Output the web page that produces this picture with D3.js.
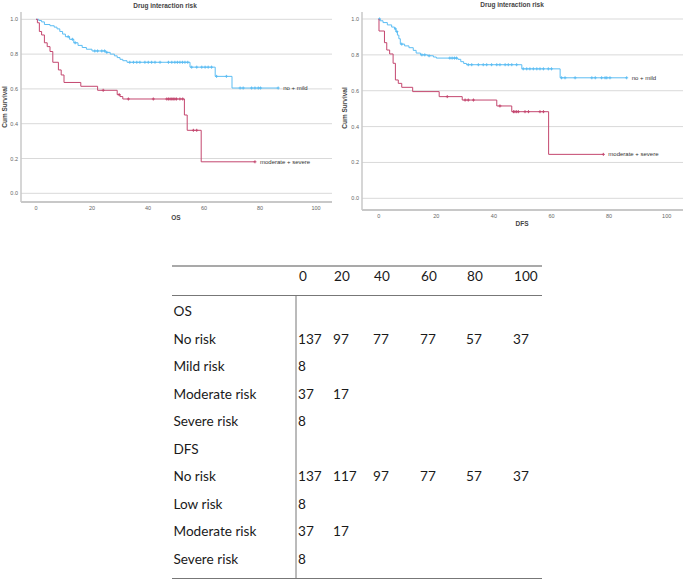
<!DOCTYPE html>
<html><head><meta charset="utf-8">
<script src="https://cdn.jsdelivr.net/npm/d3@7"></script>
<style>
html,body{margin:0;padding:0;background:#fff;}
svg{display:block;}
</style></head>
<body>
<svg id="c" width="685" height="587"></svg>
<script>
// ---------- DATA ----------
const xTicks = [0, 20, 40, 60, 80, 100];
const yTicks = [0.0, 0.2, 0.4, 0.6, 0.8, 1.0];
const chartTitle = "Drug interaction risk";
const yTitle = "Cum Survival";
const groupLabels = ["no + mild", "moderate + severe"];

// OS – no + mild
const osLowTimes = [0, 1, 2, 3, 5, 6.5, 7.5, 8.5, 9.5, 10.5, 12, 13.5, 15, 16.5, 18, 20, 25, 26.5, 28, 29, 30, 31, 32.5, 55, 64, 70];
const osLowSurv  = [1.0, 0.993, 0.985, 0.97, 0.963, 0.955, 0.945, 0.93, 0.915, 0.9, 0.885, 0.865, 0.85, 0.838, 0.828, 0.818, 0.81, 0.8, 0.79, 0.78, 0.77, 0.762, 0.753, 0.725, 0.672, 0.605];
const osLowCensor = [11.5, 13, 14, 21, 22, 23.5, 24.5, 25.3, 33.5, 34.8, 36, 37.1, 38.9, 40.1, 41.3, 42.5, 44.3, 47.3, 48.5, 49.6, 50.5, 51.4, 52.3, 53.2, 54.2, 55.6, 57.4, 59.2, 60.4, 61.5, 62.7, 64.5, 68, 72.9, 74, 77, 78.2, 79.4, 80.2, 86.5];
const osLowEnd = 86.5;

// OS – moderate + severe
const osHighTimes = [0, 0.5, 1.2, 2, 3, 4, 5, 6, 8, 9, 10, 16, 22, 29, 30, 31, 53, 54, 59];
const osHighSurv  = [1.0, 0.98, 0.93, 0.91, 0.865, 0.843, 0.815, 0.753, 0.709, 0.68, 0.637, 0.615, 0.592, 0.567, 0.556, 0.542, 0.45, 0.362, 0.181];
const osHighCensor = [24, 29.7, 33, 41.9, 46.7, 47.3, 47.9, 48.5, 49, 49.6, 50.2, 51.4, 52.4, 56.2, 57.4, 78.2];
const osHighEnd = 78.2;

// DFS – no + mild
const dfsLowTimes = [0, 0.5, 1.5, 3, 4.5, 5.5, 6, 6.5, 7, 7.5, 9, 10.5, 12, 13, 14.5, 17, 19, 20, 27.5, 28.5, 29.5, 30.5, 49.7, 63];
const dfsLowSurv  = [1.0, 0.99, 0.98, 0.967, 0.955, 0.945, 0.93, 0.91, 0.89, 0.86, 0.85, 0.84, 0.825, 0.81, 0.8, 0.795, 0.788, 0.782, 0.775, 0.762, 0.752, 0.745, 0.722, 0.672];
const dfsLowCensor = [0.3, 5.8, 6.3, 8, 15, 16, 17.5, 24.7, 25.5, 26.3, 27, 31.1, 32.3, 34.6, 36.3, 37.5, 39.2, 41, 42.1, 43.9, 45, 46.2, 47.9, 50.2, 51.4, 52.5, 53.7, 54.9, 56, 57.2, 58.9, 60, 63.5, 64.7, 68.2, 74, 75.2, 77.4, 78.6, 79.2, 80.3, 86.1];
const dfsLowEnd = 86.1;

// DFS – moderate + severe
const dfsHighTimes = [0, 0.1, 2, 2.8, 3.8, 5, 5.8, 6.8, 8, 11.8, 21, 29, 41, 46.2, 59];
const dfsHighSurv  = [1.0, 0.933, 0.868, 0.827, 0.805, 0.753, 0.66, 0.641, 0.619, 0.595, 0.567, 0.548, 0.515, 0.483, 0.245];
const dfsHighCensor = [23.8, 30, 31.1, 32.9, 42.1, 46.8, 47.3, 47.9, 48.5, 50.8, 52, 56, 57.2, 78];
const dfsHighEnd = 78;

// Number-at-risk table
const tableHeader = ["0", "20", "40", "60", "80", "100"];
const tableLabels = ["OS", "No risk", "Mild risk", "Moderate risk", "Severe risk", "DFS", "No risk", "Low risk", "Moderate risk", "Severe risk"];
const tableValues = [
  [],
  ["137", "97", "77", "77", "57", "37"],
  ["8"],
  ["37", "17"],
  ["8"],
  [],
  ["137", "117", "97", "77", "57", "37"],
  ["8"],
  ["37", "17"],
  ["8"]
];

// ---------- DRAW ----------
const svg = d3.select("#c");
const BLUE = "#5cbdf3", RED = "#c4476f";

function stepAt(times, surv, t) {
  let v = surv[0];
  for (let i = 0; i < times.length; i++) if (times[i] <= t) v = surv[i];
  return v;
}

function km(cfg) {
  const g = svg.append("g");
  const x = d3.scaleLinear().domain([0, 100]).range(cfg.xr);
  const y = d3.scaleLinear().domain([0, 1]).range(cfg.yr);
  g.selectAll(".grid").data(yTicks).join("line")
    .attr("x1", cfg.axisX).attr("x2", cfg.gridEnd)
    .attr("y1", d => y(d)).attr("y2", d => y(d))
    .attr("stroke", "#d9d9d9").attr("stroke-width", 1);
  g.append("line").attr("x1", cfg.axisX).attr("x2", cfg.axisX)
    .attr("y1", cfg.axisTop).attr("y2", cfg.axisY)
    .attr("stroke", "#c8c8c8").attr("stroke-width", 1.5);
  g.append("line").attr("x1", cfg.axisX).attr("x2", cfg.gridEnd)
    .attr("y1", cfg.axisY).attr("y2", cfg.axisY)
    .attr("stroke", "#c8c8c8").attr("stroke-width", 1.8);
  g.selectAll(".yl").data(yTicks).join("text")
    .attr("x", cfg.axisX - 3).attr("y", d => y(d) + 2)
    .attr("text-anchor", "end").attr("font-family", "Liberation Sans, Arial, sans-serif")
    .attr("font-size", 5.5).attr("fill", "#666").text(d => d.toFixed(1));
  g.selectAll(".xl").data(xTicks).join("text")
    .attr("x", d => x(d)).attr("y", cfg.axisY + 8)
    .attr("text-anchor", "middle").attr("font-family", "Liberation Sans, Arial, sans-serif")
    .attr("font-size", 5.5).attr("fill", "#666").text(d => d);
  g.append("text").attr("x", cfg.titleX).attr("y", cfg.titleY)
    .attr("text-anchor", "middle").attr("font-family", "Liberation Sans, Arial, sans-serif")
    .attr("font-size", 6.5).attr("font-weight", "bold").attr("fill", "#444").text(chartTitle);
  g.append("text").attr("transform", `translate(${cfg.yTitleX},${cfg.yTitleY}) rotate(-90)`)
    .attr("text-anchor", "middle").attr("font-family", "Liberation Sans, Arial, sans-serif")
    .attr("font-size", 6.5).attr("font-weight", "bold").attr("fill", "#444").text(yTitle);
  g.append("text").attr("x", cfg.xTitleX).attr("y", cfg.xTitleY)
    .attr("text-anchor", "middle").attr("font-family", "Liberation Sans, Arial, sans-serif")
    .attr("font-size", 6.5).attr("font-weight", "bold").attr("fill", "#444").text(cfg.xTitle);

  const line = d3.line().x(d => x(d[0])).y(d => y(d[1])).curve(d3.curveStepAfter);
  cfg.series.forEach((s, si) => {
    const pts = s.times.map((t, i) => [t, s.surv[i]]);
    pts.push([s.end, s.surv[s.surv.length - 1]]);
    g.append("path").attr("d", line(pts)).attr("fill", "none")
      .attr("stroke", s.color).attr("stroke-width", 1);
    g.selectAll(null).data(s.censor).join("path")
      .attr("d", t => {
        const cx = x(t), cy = y(stepAt(s.times, s.surv, t));
        return `M${cx - 1.5},${cy}H${cx + 1.5}M${cx},${cy - 1.5}V${cy + 1.5}`;
      })
      .attr("stroke", s.color).attr("stroke-width", 1).attr("fill", "none");
    g.append("text").attr("x", x(s.end) + 5).attr("y", y(s.surv[s.surv.length - 1]) + 2)
      .attr("font-family", "Liberation Sans, Arial, sans-serif").attr("font-size", 6)
      .attr("fill", "#333").text(groupLabels[si]);
  });
}

km({
  xr: [36, 316], yr: [193.3, 19.3], axisX: 21, axisTop: 12, axisY: 202, gridEnd: 332,
  titleX: 165, titleY: 8, yTitleX: 7, yTitleY: 107, xTitleX: 176, xTitleY: 220, xTitle: "OS",
  series: [
    {times: osLowTimes, surv: osLowSurv, censor: osLowCensor, end: osLowEnd, color: BLUE},
    {times: osHighTimes, surv: osHighSurv, censor: osHighCensor, end: osHighEnd, color: RED}
  ]
});
km({
  xr: [378.7, 666.7], yr: [198.3, 19], axisX: 362, axisTop: 12, axisY: 210, gridEnd: 683,
  titleX: 512, titleY: 7, yTitleX: 347, yTitleY: 108, xTitleX: 522, xTitleY: 226, xTitle: "DFS",
  series: [
    {times: dfsLowTimes, surv: dfsLowSurv, censor: dfsLowCensor, end: dfsLowEnd, color: BLUE},
    {times: dfsHighTimes, surv: dfsHighSurv, censor: dfsHighCensor, end: dfsHighEnd, color: RED}
  ]
});

// ---------- TABLE ----------
const T = {left: 172, right: 542, top: 266, headLine: 295.5, bottom: 578.5, vline: 296,
           headY: 276, row0: 311, rowStep: 27.55, labelX: 173.5, colX: [298, 333, 373, 420, 466, 513]};
const tg = svg.append("g").attr("font-family", "Lato, 'Open Sans', sans-serif").attr("font-size", 13.6).attr("fill", "#1a1a1a");
const colScale = d3.scaleOrdinal().domain(d3.range(6)).range(T.colX);
const rowScale = d3.scaleLinear().domain([0, 1]).range([T.row0, T.row0 + T.rowStep]);

tg.append("line").attr("x1", T.left).attr("x2", T.right).attr("y1", T.top).attr("y2", T.top).attr("stroke", "#555").attr("stroke-width", 1.2);
tg.append("line").attr("x1", T.left).attr("x2", T.right).attr("y1", T.headLine).attr("y2", T.headLine).attr("stroke", "#777").attr("stroke-width", 1);
tg.append("line").attr("x1", T.vline).attr("x2", T.vline).attr("y1", T.headLine).attr("y2", T.bottom).attr("stroke", "#777").attr("stroke-width", 1);
tg.append("line").attr("x1", T.left).attr("x2", T.right).attr("y1", T.bottom).attr("y2", T.bottom).attr("stroke", "#777").attr("stroke-width", 1.2);

tg.selectAll(".h").data(tableHeader).join("text")
  .attr("x", (d, i) => colScale(i) + 1).attr("y", T.headY).attr("dominant-baseline", "central").text(d => d);
tg.selectAll(".lab").data(tableLabels).join("text")
  .attr("x", T.labelX).attr("y", (d, i) => rowScale(i)).attr("dominant-baseline", "central").text(d => d);
tableValues.forEach((row, ri) => {
  tg.selectAll(null).data(row).join("text")
    .attr("x", (d, i) => colScale(i)).attr("y", rowScale(ri)).attr("dominant-baseline", "central").text(d => d);
});
</script>
</body></html>
